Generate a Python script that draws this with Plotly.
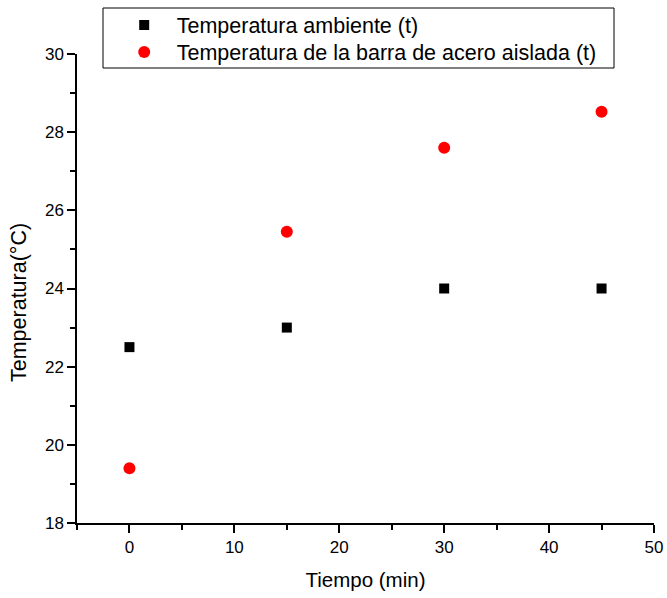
import plotly.graph_objects as go

tiempo = [0, 15, 30, 45]
temp_ambiente = [22.5, 23.0, 24.0, 24.0]
temp_barra = [19.4, 25.45, 27.6, 28.52]

name_amb = "Temperatura ambiente (t)"
name_barra = "Temperatura de la barra de acero aislada (t)"
x_title = "Tiempo (min)"
y_title = "Temperatura(°C)"

FONT = "Liberation Sans, Arial, sans-serif"
W, H = 667, 598
L, R, T, B = 77, 13, 54, 75
PW, PH = W - L - R, H - T - B

fig = go.Figure()
fig.add_trace(go.Scatter(x=tiempo, y=temp_ambiente, mode="markers", name=name_amb,
                         marker=dict(symbol="square", size=10, color="#000000"),
                         legend="legend"))
fig.add_trace(go.Scatter(x=tiempo, y=temp_barra, mode="markers", name=name_barra,
                         marker=dict(symbol="circle", size=12, color="#FF0000"),
                         legend="legend2"))

axis_common = dict(showgrid=False, zeroline=False, showline=True, linecolor="black",
                   linewidth=1.5, ticks="outside", ticklen=8, tickwidth=1.5, tickcolor="black",
                   tickfont=dict(family=FONT, size=17, color="black"), mirror=False,
                   automargin=False)

leg_common = dict(xref="container", yref="container", x=111.7 / W, xanchor="left",
                  yanchor="middle", font=dict(family=FONT, size=21.5, color="black"),
                  bgcolor="rgba(0,0,0,0)", borderwidth=0, itemwidth=55)

fig.update_layout(
    width=W, height=H,
    margin=dict(l=L, r=R, t=T, b=B, autoexpand=False),
    paper_bgcolor="white", plot_bgcolor="white",
    font=dict(family=FONT, color="black"),
    xaxis=dict(range=[-5, 50], dtick=10, tick0=0,
               minor=dict(dtick=5, tick0=0, ticks="outside", ticklen=5, tickwidth=1.5, tickcolor="black"),
               title=dict(text=x_title, font=dict(family=FONT, size=20.5, color="black"), standoff=16),
               **axis_common),
    yaxis=dict(range=[18, 30], dtick=2, tick0=18,
               minor=dict(dtick=1, tick0=18, ticks="outside", ticklen=5, tickwidth=1.5, tickcolor="black"),
               **axis_common),
    showlegend=True,
    legend=dict(y=1 - 25 / H, **leg_common),
    legend2=dict(y=1 - 52 / H, **leg_common),
    shapes=[dict(type="rect", xref="paper", yref="paper",
                 x0=(103 - L) / PW, x1=(614 - L) / PW,
                 y0=(H - B - 68) / PH, y1=(H - B - 8) / PH,
                 line=dict(color="black", width=1), fillcolor="rgba(0,0,0,0)", layer="above")],
    annotations=[dict(text=y_title, xref="paper", yref="paper",
                      x=(19 - L) / PW, y=(H - B - 303) / PH, textangle=-90,
                      showarrow=False, xanchor="center", yanchor="middle",
                      font=dict(family=FONT, size=21.5, color="black"))],
)

fig.write_html("out.html", config={"displayModeBar": False},
               post_script="document.body.style.margin='0';")
